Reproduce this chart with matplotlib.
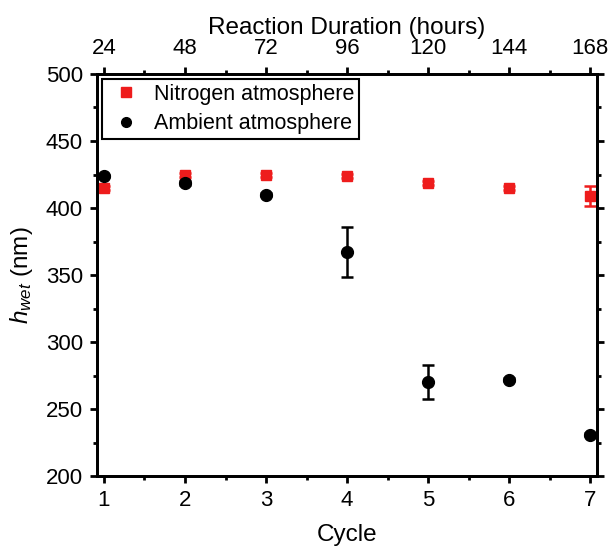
import matplotlib
matplotlib.use("Agg")
import matplotlib.pyplot as plt
from matplotlib.ticker import MultipleLocator
from matplotlib.lines import Line2D

plt.rcParams['font.family'] = ['Liberation Sans', 'DejaVu Sans']
plt.rcParams['mathtext.fontset'] = 'custom'
plt.rcParams['mathtext.rm'] = 'Liberation Sans'
plt.rcParams['mathtext.it'] = 'Liberation Sans:italic'

cycles = [1, 2, 3, 4, 5, 6, 7]
hours = [24, 48, 72, 96, 120, 144, 168]
nitrogen = [415, 425, 425, 424, 419, 415, 409]
nitrogen_err = [1.5, 1.5, 1.5, 1.5, 1.5, 1.5, 7.5]
ambient = [424, 419, 410, 367, 270, 272, 231]
ambient_err = [1, 1.5, 1, 18.5, 12.7, 1, 1]

red = '#ee1c1c'

fig = plt.figure(figsize=(6.1, 5.48), dpi=100)
ax = fig.add_axes([0.159, 0.131, 0.82, 0.734])

ax.errorbar(cycles, nitrogen, yerr=nitrogen_err, fmt='s', color=red,
            ms=7, capsize=4, elinewidth=1.8, capthick=1.8, zorder=3)
ax.errorbar(cycles, ambient, yerr=ambient_err, fmt='o', color='black',
            ms=8.5, capsize=4, elinewidth=1.8, capthick=1.8, zorder=4)

ax.set_xlim(0.914, 7.086)
ax.set_ylim(200, 500)
ax.set_xticks(cycles)
ax.xaxis.set_minor_locator(MultipleLocator(0.5))
ax.yaxis.set_major_locator(MultipleLocator(50))
ax.yaxis.set_minor_locator(MultipleLocator(25))
ax.tick_params(which='both', direction='out', width=2, labelsize=16,
               right=True, labelright=False, pad=5)
ax.tick_params(which='major', length=5)
ax.tick_params(which='minor', length=3)
for s in ax.spines.values():
    s.set_linewidth(2)
ax.set_xlabel('Cycle', fontsize=17.5, labelpad=9)
ax.set_ylabel('$h_{wet}$ (nm)', fontsize=17.5, labelpad=8)

ax2 = ax.twiny()
ax2.set_xlim(ax.get_xlim())
ax2.set_xticks(cycles)
ax2.set_xticklabels([str(h) for h in hours])
ax2.xaxis.set_minor_locator(MultipleLocator(0.5))
ax2.tick_params(which='both', direction='out', width=2, labelsize=16, pad=6)
ax2.tick_params(which='major', length=5)
ax2.tick_params(which='minor', length=3)
for s in ax2.spines.values():
    s.set_linewidth(2)
ax2.set_xlabel('Reaction Duration (hours)', fontsize=17.5, labelpad=3)

handles = [
    Line2D([], [], ls='none', marker='s', color=red, ms=7),
    Line2D([], [], ls='none', marker='o', color='black', ms=7),
]
leg = ax.legend(handles, ['Nitrogen atmosphere', 'Ambient atmosphere'],
                loc='upper left', fontsize=15.5, frameon=True, fancybox=False,
                edgecolor='black', borderaxespad=0.25, handletextpad=0.42,
                borderpad=0.2, labelspacing=0.4, handlelength=1.8,
                framealpha=1)
leg.get_frame().set_linewidth(1.5)

fig.savefig('out.png', dpi=100)
